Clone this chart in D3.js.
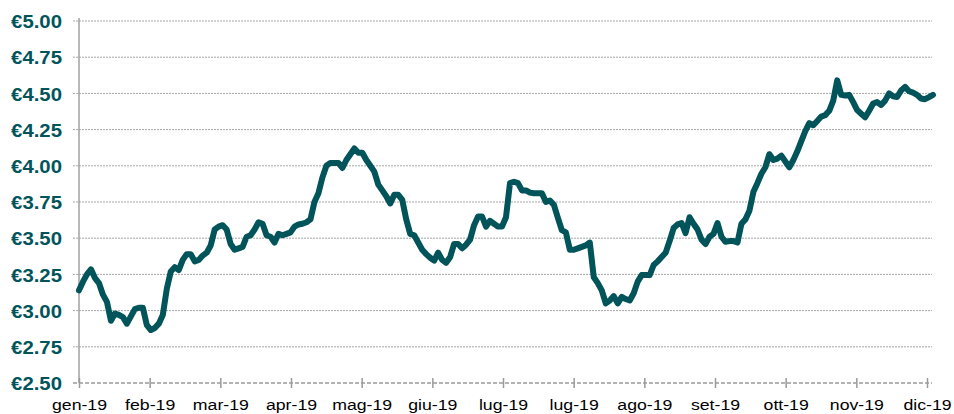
<!DOCTYPE html>
<html><head><meta charset="utf-8">
<script src="https://cdn.jsdelivr.net/npm/d3@7"></script>
<style>body{margin:0;background:#fff}svg{display:block}</style>
</head><body>
<svg id="c" width="954" height="414"></svg>
<script>
const monthLabels = ["gen-19","feb-19","mar-19","apr-19","mag-19","giu-19","lug-19","lug-19","ago-19","set-19","ott-19","nov-19","dic-19"];
const yTicks = [2.5,2.75,3.0,3.25,3.5,3.75,4.0,4.25,4.5,4.75,5.0];
const prices = [
3.14,3.20,3.25,3.285,3.225,3.19,3.11,3.06,2.93,2.98,
2.97,2.955,2.91,2.96,3.01,3.02,3.02,2.90,2.866,2.88,
2.91,2.97,3.15,3.27,3.30,3.28,3.35,3.39,3.39,3.34,
3.35,3.38,3.40,3.45,3.56,3.58,3.59,3.56,3.46,3.42,
3.43,3.44,3.51,3.52,3.56,3.61,3.60,3.52,3.51,3.47,
3.53,3.52,3.53,3.54,3.58,3.595,3.60,3.61,3.63,3.75,
3.81,3.92,4.00,4.02,4.02,4.02,3.985,4.04,4.08,4.12,
4.09,4.09,4.04,4.00,3.96,3.87,3.83,3.79,3.74,3.80,
3.80,3.765,3.63,3.53,3.52,3.47,3.42,3.39,3.365,3.345,
3.40,3.35,3.33,3.37,3.46,3.46,3.43,3.455,3.49,3.59,
3.65,3.65,3.58,3.62,3.60,3.58,3.58,3.645,3.88,3.89,
3.88,3.83,3.83,3.815,3.81,3.81,3.81,3.75,3.76,3.73,
3.64,3.555,3.54,3.42,3.42,3.43,3.44,3.45,3.47,3.23,
3.19,3.14,3.05,3.07,3.10,3.05,3.095,3.08,3.07,3.12,
3.20,3.245,3.245,3.245,3.315,3.34,3.37,3.40,3.48,3.57,
3.595,3.605,3.535,3.645,3.60,3.56,3.49,3.46,3.51,3.53,
3.605,3.51,3.475,3.48,3.48,3.47,3.60,3.63,3.69,3.82,
3.88,3.945,3.99,4.08,4.04,4.05,4.07,4.03,3.99,4.04,
4.10,4.17,4.24,4.295,4.28,4.31,4.34,4.35,4.38,4.45,
4.59,4.49,4.485,4.49,4.44,4.385,4.36,4.335,4.38,4.43,
4.44,4.42,4.45,4.50,4.48,4.475,4.52,4.545,4.515,4.505,
4.49,4.465,4.46,4.475,4.49
];

const svg = d3.select("#c");
const L = 79, R = 933, T = 21, B = 383;
const y = d3.scaleLinear().domain([2.5, 5]).range([B, T]);
const x = d3.scaleLinear().domain([0, prices.length - 1]).range([L, R]);
const xm = d3.scaleLinear().domain([0, monthLabels.length - 1]).range([L, 927]);
const teal = "#00545a";

// gridlines
svg.append("g").selectAll("line").data(yTicks.filter(v => v > 2.5)).join("line")
  .attr("x1", L - 6).attr("x2", 932)
  .attr("y1", d => y(d)).attr("y2", d => y(d))
  .attr("stroke", "#a5a5a5").attr("stroke-width", 1).attr("stroke-dasharray", "2,1");

// y axis line
svg.append("line").attr("x1", L).attr("x2", L).attr("y1", T - 3).attr("y2", B)
  .attr("stroke", "#a0a0a0").attr("stroke-width", 1.5);

// x axis (dashed) with ticks
const xAxis = d3.axisBottom(xm).tickValues(d3.range(monthLabels.length))
  .tickFormat(i => monthLabels[i]).tickSize(0).tickPadding(0);
const gx = svg.append("g").attr("transform", `translate(0,${B})`).call(xAxis);
gx.select(".domain").remove();
gx.selectAll(".tick text").remove();
gx.append("line").attr("x1", L - 6).attr("x2", 932).attr("y1", 0).attr("y2", 0)
  .attr("stroke", "#9a9a9a").attr("stroke-width", 1.5).attr("stroke-dasharray", "4,2");
gx.selectAll(".tick").append("line").attr("y1", -5).attr("y2", 5)
  .attr("stroke", "#9a9a9a").attr("stroke-width", 1.5);
gx.selectAll(".tick").append("text")
  .attr("transform", "translate(0,27) scale(1.18,1)")
  .attr("text-anchor", "middle").attr("fill", "#000")
  .attr("font-family", "Liberation Sans, Arial, sans-serif").attr("font-size", 15)
  .text(i => monthLabels[i]);

// y labels
const yAxis = d3.axisLeft(y).tickValues(yTicks).tickSize(0).tickPadding(0)
  .tickFormat(v => "€" + v.toFixed(2));
const gy = svg.append("g").attr("transform", `translate(${L},0)`).call(yAxis);
gy.select(".domain").remove();
gy.selectAll(".tick text")
  .attr("transform", "translate(-17,0) scale(1.1,1)")
  .attr("x", 0).attr("dy", "0.36em").attr("text-anchor", "end")
  .attr("fill", teal).attr("font-weight", "bold")
  .attr("font-family", "Liberation Sans, Arial, sans-serif").attr("font-size", 18.5);

// line
svg.append("path").datum(prices)
  .attr("fill", "none").attr("stroke", teal).attr("stroke-width", 6)
  .attr("stroke-linejoin", "round").attr("stroke-linecap", "round")
  .attr("d", d3.line().x((d, i) => x(i)).y(d => y(d)));
</script>
</body></html>
